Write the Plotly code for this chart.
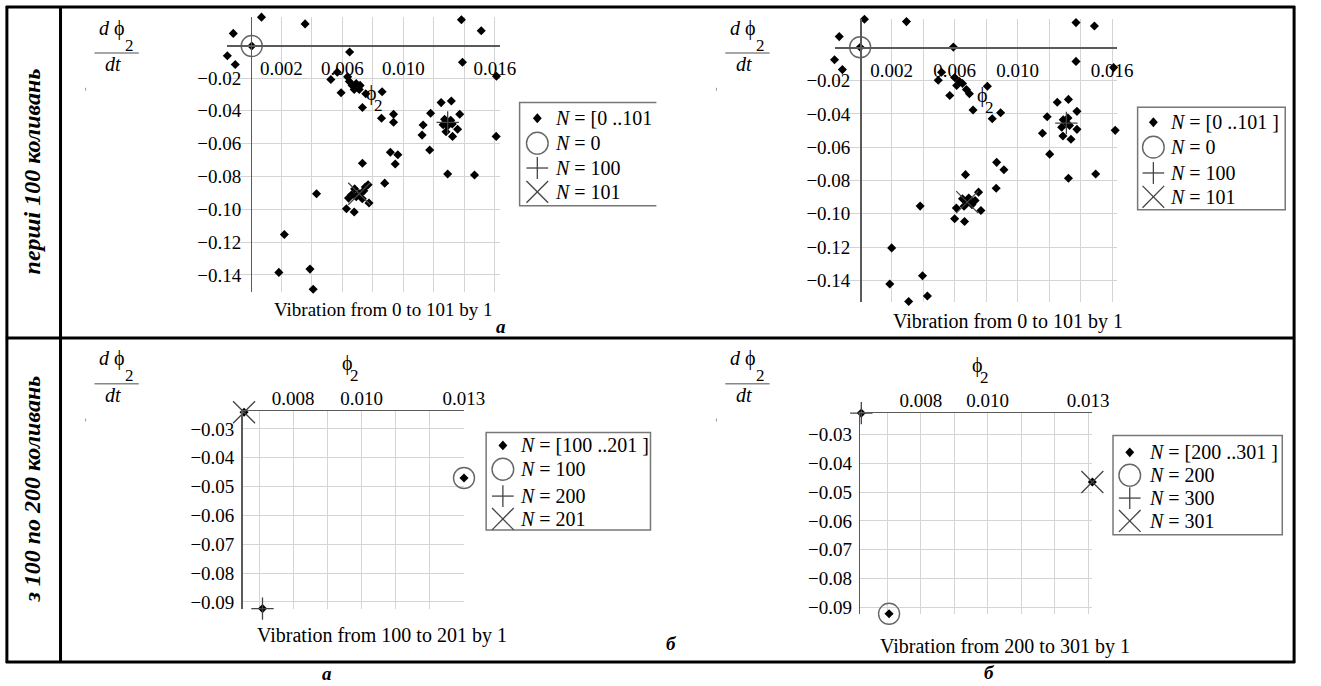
import plotly.graph_objects as go

W, H = 1321, 686
FONT = "Liberation Serif, 'Times New Roman', 'DejaVu Serif', serif"

# ---------------- data ----------------
# panel a (top-left): N = 0..101
p1_phi = [0.00069, 0.00355, -0.00116, 0.00005, -0.00155, -0.00103, 0.00647, 0.00566, 0.00524, 0.00634,
          0.00645, 0.00664, 0.0069, 0.0071, 0.00677, 0.00716, 0.00591, 0.00753, 0.0086, 0.00731,
          0.00856, 0.00935, 0.00935, 0.01129, 0.01122, 0.01178, 0.01247, 0.01314, 0.01172, 0.00914,
          0.00963, 0.00731, 0.00946, 0.01387, 0.0161, 0.01369, 0.0129, 0.0127, 0.0131, 0.0129,
          0.0132, 0.0126, 0.01355, 0.01279, 0.01322, 0.01608, 0.0129, 0.01466, 0.0138, 0.0151,
          0.00877, 0.00768, 0.0071, 0.0068, 0.0074, 0.0069, 0.0073, 0.0066, 0.0075, 0.0043,
          0.0064, 0.00774, 0.00626, 0.00677, 0.00219, 0.00183, 0.00387, 0.00286, 0.00408]
p1_dphi = [0.0171, 0.0130, 0.0072, -0.0005, -0.0064, -0.0118, -0.0041, -0.0165, -0.0209, -0.0193,
           -0.0221, -0.0245, -0.0233, -0.0270, -0.0270, -0.0245, -0.0290, -0.0296, -0.0284, -0.0380,
           -0.0445, -0.0421, -0.0470, -0.0486, -0.0548, -0.0415, -0.0350, -0.0340, -0.0639, -0.0653,
           -0.0668, -0.0720, -0.0724, -0.0104, -0.0189, -0.0421, -0.0471, -0.0452, -0.0458, -0.0491,
           -0.0480, -0.0485, -0.0512, -0.0528, -0.0556, -0.0556, -0.0785, -0.0791, 0.0155, 0.0088,
           -0.0841, -0.0851, -0.0906, -0.0876, -0.0888, -0.0924, -0.0936, -0.0912, -0.0864, -0.0906,
           -0.0932, -0.0962, -0.0997, -0.1017, -0.1154, -0.1385, -0.1365, -0.1506, -0.1488]
p1_n0_phi, p1_n0_dphi = [0.00005], [-0.0005]
p1_n100_phi, p1_n100_dphi = [0.0129], [-0.0471]
p1_n101_phi, p1_n101_dphi = [0.0071], [-0.0906]

# panel a (top-right): N = 0..101
p2_phi = [0.00027, 0.00294, -0.00133, 0.0, -0.00163, -0.00113, 0.00592, 0.00517, 0.00496, 0.00569,
          0.0060, 0.00631, 0.00613, 0.0065, 0.00675, 0.00694, 0.00717, 0.00808, 0.00839, 0.00892,
          0.01371, 0.01488, 0.01371, 0.01252, 0.01323, 0.01377, 0.01188, 0.01158, 0.01204, 0.00867,
          0.01308, 0.0129, 0.0133, 0.0128, 0.0132, 0.01288, 0.01339, 0.01377, 0.0161, 0.0162,
          0.00913, 0.00669, 0.01323, 0.01496, 0.00864, 0.00752, 0.00683, 0.0065, 0.0071, 0.0069,
          0.0066, 0.0073, 0.00611, 0.00767, 0.0060, 0.00663, 0.00381, 0.0020, 0.00188, 0.00396,
          0.00308, 0.00427]
p2_dphi = [0.0168, 0.0154, 0.0064, 0.0, -0.0075, -0.0134, 0.0001, -0.0150, -0.0198, -0.0290,
           -0.0182, -0.0206, -0.0230, -0.0218, -0.0254, -0.0279, -0.0377, -0.0234, -0.0429, -0.0393,
           0.0148, 0.0128, -0.0085, -0.0330, -0.0313, -0.0385, -0.0417, -0.0516, -0.0642, -0.0691,
           -0.0453, -0.0435, -0.0470, -0.0480, -0.0425, -0.0533, -0.0552, -0.0493, -0.0122, -0.0499,
           -0.0736, -0.0765, -0.0787, -0.0761, -0.0847, -0.0870, -0.0930, -0.0910, -0.0945, -0.0905,
           -0.0955, -0.0920, -0.0966, -0.0980, -0.1030, -0.1046, -0.0954, -0.1205, -0.1422, -0.1372,
           -0.1527, -0.1494]
p2_n0_phi, p2_n0_dphi = [0.0], [0.0]
p2_n100_phi, p2_n100_dphi = [0.0131], [-0.0455]
p2_n101_phi, p2_n101_dphi = [0.0068], [-0.0930]

# panel б (bottom-left): N = 100..201
p3_phi = [0.00656, 0.0130, 0.0071]
p3_dphi = [-0.0242, -0.0470, -0.0923]
p3_n100_phi, p3_n100_dphi = [0.0130], [-0.0470]
p3_n200_phi, p3_n200_dphi = [0.0071], [-0.0923]
p3_n201_phi, p3_n201_dphi = [0.00656], [-0.0242]

# panel б (bottom-right): N = 200..301
p4_phi = [0.00622, 0.01313, 0.00705]
p4_dphi = [-0.0226, -0.0465, -0.0922]
p4_n200_phi, p4_n200_dphi = [0.00705], [-0.0922]
p4_n300_phi, p4_n300_dphi = [0.00622], [-0.0226]
p4_n301_phi, p4_n301_dphi = [0.01313], [-0.0465]

# tick labels
top_xticks = [0.002, 0.004, 0.006, 0.008, 0.010, 0.012, 0.014, 0.016]
top_xtext = ["0.002", "", "0.006", "", "0.010", "", "", "0.016"]
top_yticks = [-0.14, -0.12, -0.10, -0.08, -0.06, -0.04, -0.02]
top_ytext = ["\u22120.14", "\u22120.12", "\u22120.10", "\u22120.08", "\u22120.06", "\u22120.04", "\u22120.02"]
bot_xticks = [0.007, 0.008, 0.009, 0.010, 0.011, 0.012, 0.013]
bot_xtext = ["", "0.008", "", "0.010", "", "", "0.013"]
bot_yticks = [-0.09, -0.08, -0.07, -0.06, -0.05, -0.04, -0.03]
bot_ytext = ["\u22120.09", "\u22120.08", "\u22120.07", "\u22120.06", "\u22120.05", "\u22120.04", "\u22120.03"]

row_labels = ["перші 100 коливань", "з 100 по 200 коливань"]
captions = ["Vibration from 0 to 101 by 1", "Vibration from 0 to 101 by 1",
            "Vibration from 100 to 201 by 1", "Vibration from 200 to 301 by 1"]
legend_texts = [
    ["<i>N</i> = [0 ..101", "<i>N</i> = 0", "<i>N</i> = 100", "<i>N</i> = 101"],
    ["<i>N</i> = [0 ..101 ]", "<i>N</i> = 0", "<i>N</i> = 100", "<i>N</i> = 101"],
    ["<i>N</i> = [100 ..201 ]", "<i>N</i> = 100", "<i>N</i> = 200", "<i>N</i> = 201"],
    ["<i>N</i> = [200 ..301 ]", "<i>N</i> = 200", "<i>N</i> = 300", "<i>N</i> = 301"],
]


# ---------------- helpers (pixel -> paper) ----------------
def X(px):
    return px / W


def Y(py):
    return 1 - py / H


AXC = "#5a5a5a"
GRID = "#d4d4d4"
PH = "\u03d5"

fig = go.Figure()

panels = [
    dict(box=(231, 16.6, 507.6, 293.8), xr=[-0.00155, 0.0163], yr=[-0.1505, 0.0175], kind="normal",
         phi=p1_phi, dphi=p1_dphi,
         c=(p1_n0_phi, p1_n0_dphi), p=(p1_n100_phi, p1_n100_dphi), x=(p1_n101_phi, p1_n101_dphi)),
    dict(box=(848, 19.4, 1134.8, 303.3), xr=[-0.00163, 0.0163], yr=[-0.1527, 0.0168], kind="normal",
         phi=p2_phi, dphi=p2_dphi,
         c=(p2_n0_phi, p2_n0_dphi), p=(p2_n100_phi, p2_n100_dphi), x=(p2_n101_phi, p2_n101_dphi)),
    dict(box=(246.6, 413.5, 471.5, 612.75), xr=[0.00652, 0.0130], yr=[-0.0925, -0.0238], kind="box",
         phi=p3_phi, dphi=p3_dphi,
         c=(p3_n100_phi, p3_n100_dphi), p=(p3_n200_phi, p3_n200_dphi), x=(p3_n201_phi, p3_n201_dphi)),
    dict(box=(874.2, 415.5, 1110, 617.4), xr=[0.00619, 0.01313], yr=[-0.0922, -0.0226], kind="box",
         phi=p4_phi, dphi=p4_dphi,
         c=(p4_n200_phi, p4_n200_dphi), p=(p4_n300_phi, p4_n300_dphi), x=(p4_n301_phi, p4_n301_dphi)),
]

layout_axes = {}
for i, pn in enumerate(panels):
    k = "" if i == 0 else str(i + 1)
    l, t, r, b = pn["box"]
    xd = [X(l), X(r)]
    yd = [Y(b), Y(t)]
    xr, yr = pn["xr"], pn["yr"]
    common = dict(showline=True, linecolor=AXC, linewidth=1.5, showgrid=True, gridcolor=GRID,
                  gridwidth=1, zeroline=False, ticks="", tickmode="array",
                  tickfont=dict(family=FONT, size=19, color="black"), fixedrange=True)
    if pn["kind"] == "normal":
        ypos0 = yd[0] + (0 - yr[0]) / (yr[1] - yr[0]) * (yd[1] - yd[0])
        xpos0 = xd[0] + (0 - xr[0]) / (xr[1] - xr[0]) * (xd[1] - xd[0])
        xa = dict(common, domain=xd, range=xr, anchor="free", position=ypos0,
                  tickvals=top_xticks, ticktext=top_xtext, ticklabelstandoff=5)
        ya = dict(common, domain=yd, range=yr, anchor="free", position=xpos0,
                  tickvals=top_yticks, ticktext=top_ytext, ticklabelstandoff=6)
    else:
        xa = dict(common, domain=xd, range=xr, anchor="y" + k, side="top",
                  tickvals=bot_xticks, ticktext=bot_xtext, ticklabelstandoff=-3)
        ya = dict(common, domain=yd, range=yr, anchor="x" + k,
                  tickvals=bot_yticks, ticktext=bot_ytext, ticklabelstandoff=3)
    layout_axes["xaxis" + k] = xa
    layout_axes["yaxis" + k] = ya

    xa_ref, ya_ref = "x" + k, "y" + k
    fig.add_trace(go.Scatter(x=pn["phi"], y=pn["dphi"], mode="markers", xaxis=xa_ref, yaxis=ya_ref,
                             cliponaxis=False, showlegend=False,
                             marker=dict(symbol="diamond", size=7, color="black", line=dict(width=0))))
    fig.add_trace(go.Scatter(x=pn["c"][0], y=pn["c"][1], mode="markers", xaxis=xa_ref, yaxis=ya_ref,
                             cliponaxis=False, showlegend=False,
                             marker=dict(symbol="circle-open", size=21, color="#666",
                                         line=dict(width=1.4, color="#666"))))
    fig.add_trace(go.Scatter(x=pn["p"][0], y=pn["p"][1], mode="markers", xaxis=xa_ref, yaxis=ya_ref,
                             cliponaxis=False, showlegend=False,
                             marker=dict(symbol="cross-thin", size=16, color="#444",
                                         line=dict(width=1.3, color="#444"))))
    fig.add_trace(go.Scatter(x=pn["x"][0], y=pn["x"][1], mode="markers", xaxis=xa_ref, yaxis=ya_ref,
                             cliponaxis=False, showlegend=False,
                             marker=dict(symbol="x-thin", size=22, color="#444",
                                         line=dict(width=1.3, color="#444"))))

shapes = []
annots = []


def txt(x, y, s, size=19, xanchor="center", angle=0, yanchor="middle"):
    annots.append(dict(x=X(x), y=Y(y), xref="paper", yref="paper", text=s, showarrow=False,
                       font=dict(family=FONT, size=size, color="black"), xanchor=xanchor,
                       yanchor=yanchor, textangle=angle, borderpad=0))


def line(x0, y0, x1, y1, color="black", width=3):
    shapes.append(dict(type="line", xref="paper", yref="paper", x0=X(x0), y0=Y(y0), x1=X(x1), y1=Y(y1),
                       line=dict(color=color, width=width)))


# table frame
line(6, 7, 1316, 7)
line(6, 666, 1316, 666)
line(6, 340, 1316, 340)
line(7, 6, 7, 667)
line(61.5, 6, 61.5, 667)
line(1315, 6, 1315, 667)

# row labels
txt(33, 172, "<b><i>" + row_labels[0] + "</i></b>", size=24, angle=-90)
txt(33, 492, "<b><i>" + row_labels[1] + "</i></b>", size=24, angle=-90)

# panel letters
txt(509, 328, "<b><i>а</i></b>", size=19)
txt(682, 647, "<b><i>б</i></b>", size=19)
txt(332, 677, "<b><i>а</i></b>", size=19)
txt(1005, 676, "<b><i>б</i></b>", size=19)

# y-axis titles (fraction) and tiny marks
for (fx, fl) in [(96, 53.3), (737, 53.3), (96, 386), (737, 386)]:
    txt(fx + 18, fl - 25, "<i>d</i> " + PH, size=20)
    txt(fx + 36, fl - 8, "2", size=17)
    line(fx, fl, fx + 45, fl, color="#888", width=1.5)
    txt(fx + 19, fl + 11, "<i>dt</i>", size=20)
    line(fx - 9, fl + 35, fx - 9, fl + 38, color="#999", width=1)

# phi_2 labels
for (qx, qy) in [(378, 94), (998, 96), (353, 366), (993, 368)]:
    txt(qx, qy, PH, size=20)
    txt(qx + 7, qy + 12, "2", size=17)

# captions
for (cx, cy, sz), s in zip([(389, 311, 19), (1024, 323, 20), (388, 639, 20), (1021, 650, 20)], captions):
    txt(cx, cy, s, size=sz)

# legends
legs = [
    dict(box=(528, 103, 667, 207), sx=546, tx=563, rows=[119, 144, 169, 193], open_right=True),
    dict(box=(1156, 108, 1306, 211), sx=1172, tx=1188, rows=[123, 148, 174, 198], open_right=False),
    dict(box=(494, 435, 661, 533), sx=511, tx=527, rows=[448, 472, 499, 522], open_right=False),
    dict(box=(1131, 438, 1303, 538), sx=1148, tx=1167, rows=[455, 478, 501, 524], open_right=False),
]
for lg, texts in zip(legs, legend_texts):
    x0, y0, x1, y1 = lg["box"]
    if lg["open_right"]:
        path = f"M{X(x1)},{Y(y0)} L{X(x0)},{Y(y0)} L{X(x0)},{Y(y1)} L{X(x1)},{Y(y1)}"
    else:
        path = f"M{X(x0)},{Y(y0)} L{X(x1)},{Y(y0)} L{X(x1)},{Y(y1)} L{X(x0)},{Y(y1)} Z"
    shapes.append(dict(type="path", xref="paper", yref="paper", path=path, line=dict(color="#777", width=1.5)))
    sx = lg["sx"]
    r0, r1, r2, r3 = lg["rows"]
    shapes.append(dict(type="path", xref="paper", yref="paper",
                       path=f"M{X(sx)},{Y(r0 - 5)} L{X(sx + 4.5)},{Y(r0)} L{X(sx)},{Y(r0 + 5)} L{X(sx - 4.5)},{Y(r0)} Z",
                       fillcolor="black", line=dict(width=0)))
    shapes.append(dict(type="circle", xref="paper", yref="paper", x0=X(sx - 11), x1=X(sx + 11),
                       y0=Y(r1 + 11), y1=Y(r1 - 11), line=dict(color="#666", width=1.4)))
    line(sx - 11, r2, sx + 11, r2, color="#444", width=1.3)
    line(sx, r2 - 11, sx, r2 + 11, color="#444", width=1.3)
    line(sx - 11, r3 - 11, sx + 11, r3 + 11, color="#444", width=1.3)
    line(sx - 11, r3 + 11, sx + 11, r3 - 11, color="#444", width=1.3)
    for ry, s in zip(lg["rows"], texts):
        txt(lg["tx"], ry, s, size=20, xanchor="left")

fig.update_layout(width=W, height=H, autosize=False, margin=dict(l=0, r=0, t=0, b=0),
                  paper_bgcolor="white", plot_bgcolor="white", showlegend=False,
                  font=dict(family=FONT, color="black"), shapes=shapes, annotations=annots,
                  **layout_axes)

fig.write_html("out.html", include_plotlyjs=True, full_html=True,
               config={"displayModeBar": False, "staticPlot": True},
               post_script="document.body.style.margin='0';document.body.style.overflow='hidden';")
